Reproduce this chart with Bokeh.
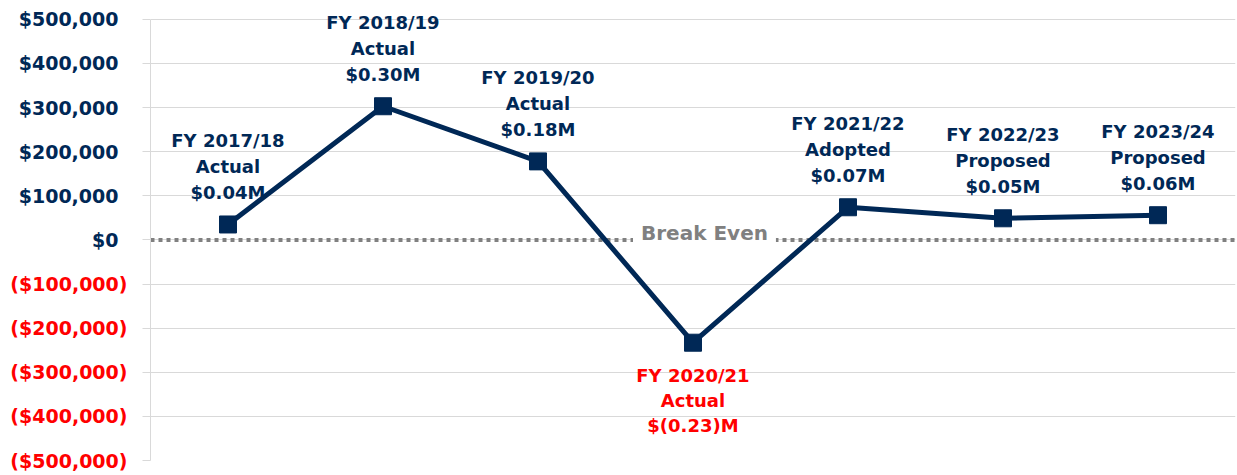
from bokeh.plotting import figure
from bokeh.models import (ColumnDataSource, LabelSet, Label, Span, FixedTicker, Range1d,
                          LinearAxis)
from bokeh.core.properties import value
from bokeh.embed import file_html
from bokeh.resources import INLINE

# ---------------- data ----------------
fiscal_years = ["FY 2017/18", "FY 2018/19", "FY 2019/20", "FY 2020/21",
                "FY 2021/22", "FY 2022/23", "FY 2023/24"]
budget_status = ["Actual", "Actual", "Actual", "Actual", "Adopted", "Proposed", "Proposed"]
net_values = [35000, 303000, 178000, -233000, 74000, 49000, 56000]
value_labels = ["$0.04M", "$0.30M", "$0.18M", "$(0.23)M", "$0.07M", "$0.05M", "$0.06M"]
tick_values = [-500000, -400000, -300000, -200000, -100000, 0,
               100000, 200000, 300000, 400000, 500000]
tick_labels = ["($500,000)", "($400,000)", "($300,000)", "($200,000)", "($100,000)", "$0",
               "$100,000", "$200,000", "$300,000", "$400,000", "$500,000"]
break_even_text = "Break Even"

# ---------------- style ----------------
NAVY = "#002856"
RED = "#FF0000"
GRAY = "#808080"
GRID = "#D9D9D9"
FONT = "DejaVu Sans"

x = list(range(len(fiscal_years)))
neg = [v < 0 for v in net_values]
src = ColumnDataSource(dict(
    x=x, y=net_values, fy=fiscal_years, status=budget_status, amt=value_labels,
    color=[RED if n else NAVY for n in neg],
    off1=[-33 if n else 84 for n in neg],
    off2=[-58 if n else 58 for n in neg],
    off3=[-83 if n else 32 for n in neg],
))

y_lo, y_hi = min(tick_values), max(tick_values)

p = figure(width=1237, height=475,
           x_range=Range1d(-0.5, len(fiscal_years) - 0.5),
           y_range=Range1d(y_lo, y_hi + 20000),
           output_backend="svg", toolbar_location=None,
           x_axis_location=None,
           min_border_left=150, min_border_right=2,
           min_border_top=10, min_border_bottom=15)
p.outline_line_color = None
p.xgrid.visible = False
p.ygrid.grid_line_color = GRID
p.ygrid.grid_line_width = 1

ax = p.yaxis[0]
ax.ticker = FixedTicker(ticks=tick_values)
ax.bounds = (y_lo, y_hi)
ax.axis_line_color = GRID
ax.major_tick_line_color = GRID
ax.major_tick_out = 8
ax.major_tick_in = 0
ax.minor_tick_line_color = None
ax.major_label_overrides = {v: (lab if v >= 0 else "") for v, lab in zip(tick_values, tick_labels)}
ax.major_label_text_font = FONT
ax.major_label_text_font_style = "bold"
ax.major_label_text_font_size = "19px"
ax.major_label_text_color = NAVY
ax.major_label_standoff = 24

# negative tick labels in red (second axis pulled over the first)
neg_ticks = [v for v in tick_values if v < 0]
red_ax = LinearAxis(ticker=FixedTicker(ticks=neg_ticks),
                    major_label_overrides={v: l for v, l in zip(tick_values, tick_labels) if v < 0},
                    axis_line_color=None, major_tick_line_color=None, minor_tick_line_color=None,
                    major_tick_out=0, major_tick_in=0, major_label_standoff=-112,
                    major_label_text_font=FONT, major_label_text_font_style="bold",
                    major_label_text_font_size="19px", major_label_text_color=RED)
p.add_layout(red_ax, "left")

# break-even line
p.add_layout(Span(location=0, dimension="width", line_color=GRAY, line_width=4,
                  line_dash="4 4", level="underlay"))
p.add_layout(Label(x=3.074, y=0, text=break_even_text, text_align="center",
                   text_baseline="middle", y_offset=7, text_font=FONT,
                   text_font_style="bold", text_font_size="20px", text_color=GRAY,
                   background_fill_color="white", padding=8))

# series
p.line("x", "y", source=src, line_color=NAVY, line_width=5)
p.scatter("x", "y", source=src, marker="square", size=17, fill_color=NAVY, line_color=NAVY)

for col, off in (("fy", "off1"), ("status", "off2"), ("amt", "off3")):
    p.add_layout(LabelSet(x="x", y="y", text=col, source=src, y_offset=off,
                          text_align="center", text_baseline="middle",
                          text_font=value(FONT), text_font_style="bold", text_font_size="18px",
                          text_color="color"))

open("out.html", "w").write(file_html(p, INLINE))
